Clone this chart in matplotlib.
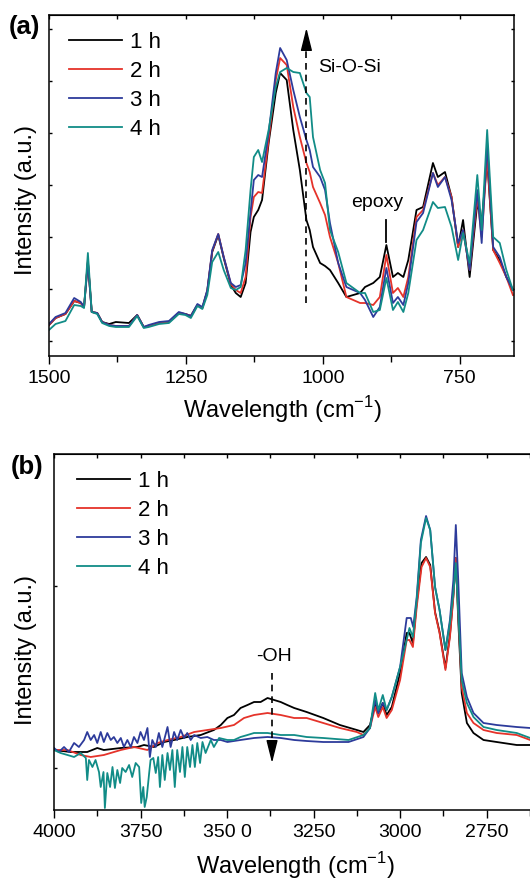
import numpy as np
import matplotlib
matplotlib.use('Agg')
import matplotlib.pyplot as plt
from matplotlib.ticker import MultipleLocator, FixedLocator

plt.rcParams['font.family'] = ['Liberation Sans', 'DejaVu Sans']
plt.rcParams['mathtext.fontset'] = 'custom'
plt.rcParams['mathtext.rm'] = 'Liberation Sans'

# ------------------------- (a) 1500-650 cm-1 -------------------------
wn_a = [1500, 1488, 1470, 1454, 1442, 1436, 1429, 1422, 1412, 1403,
        1390, 1378, 1354, 1339, 1327, 1318, 1299, 1281, 1263, 1251,
        1241, 1229, 1220, 1211, 1202, 1191, 1181, 1168, 1159, 1150,
        1141, 1132, 1126, 1118, 1111, 1099, 1086, 1078, 1066, 1054,
        1042, 1030, 1024, 1018, 1005, 996, 987, 972, 957, 932,
        923, 908, 896, 884, 872, 863, 853, 844, 829, 817,
        799, 790, 777, 765, 753, 744, 732, 718, 710, 700,
        689, 677, 665, 653]
a_1h = [16, 23, 27, 40, 38, 34, 79, 29, 28, 19, 17, 19, 18, 26, 14, 15, 18, 19, 28, 27,
        25, 36, 33, 50, 89, 106, 83, 56, 48, 44, 58, 109, 124, 131, 141, 198, 248, 268, 261, 211,
        171, 121, 111, 94, 78, 75, 71, 58, 44, 48, 54, 58, 64, 96, 64, 68, 64, 81, 131, 134,
        178, 164, 169, 144, 94, 121, 64, 138, 119, 181, 91, 81, 64, 51]
a_2h = [16, 23, 27, 40, 38, 34, 81, 29, 28, 19, 16, 15, 15, 26, 14, 15, 18, 19, 28, 27,
        25, 36, 33, 50, 90, 107, 84, 57, 51, 48, 64, 124, 144, 149, 148, 201, 261, 283, 276, 234,
        204, 178, 169, 154, 138, 126, 104, 78, 44, 38, 38, 36, 44, 86, 48, 53, 44, 64, 124, 131,
        168, 156, 164, 144, 94, 111, 71, 144, 104, 184, 91, 78, 64, 46]
a_3h = [17, 24, 28, 43, 39, 34, 79, 29, 28, 19, 16, 15, 15, 26, 14, 16, 19, 20, 29, 27,
        25, 37, 34, 51, 91, 107, 84, 58, 54, 56, 78, 129, 161, 166, 164, 208, 268, 293, 281, 251,
        224, 201, 191, 174, 164, 151, 118, 78, 54, 48, 41, 24, 34, 73, 38, 44, 36, 58, 119, 128,
        168, 154, 164, 141, 98, 111, 71, 151, 98, 198, 94, 84, 64, 51]
a_4h = [11, 17, 20, 36, 35, 33, 88, 29, 27, 18, 15, 14, 14, 25, 13, 14, 17, 18, 27, 26,
        23, 35, 32, 46, 79, 89, 71, 53, 51, 54, 91, 151, 184, 191, 179, 211, 254, 269, 273, 269,
        268, 248, 244, 204, 171, 158, 111, 89, 58, 48, 48, 29, 31, 63, 31, 39, 29, 48, 101, 111,
        139, 133, 134, 114, 81, 108, 78, 166, 111, 211, 104, 98, 71, 51]

# ------------------------- (b) 4000-2620 cm-1 -------------------------
wn_b_1h = [4000, 3952, 3904, 3875, 3856, 3807, 3759, 3740, 3711, 3682,
           3653, 3615, 3576, 3538, 3518, 3499, 3480, 3461, 3441, 3422,
           3403, 3383, 3364, 3345, 3326, 3306, 3270, 3222, 3174, 3125,
           3106, 3087, 3072, 3063, 3050, 3039, 3024, 3000, 2981, 2973,
           2963, 2952, 2938, 2925, 2913, 2899, 2886, 2869, 2856, 2846,
           2839, 2832, 2822, 2807, 2788, 2759, 2721, 2663, 2624]
b_1h = [18, 16, 16, 20, 18, 20, 21, 23, 21, 26, 28, 31, 33, 38, 43, 50, 53, 60, 63, 66,
        66, 70, 68, 66, 63, 60, 56, 50, 43, 38, 36, 43, 65, 55, 65, 53, 61, 95, 135, 135,
        125, 165, 205, 211, 203, 156, 136, 100, 133, 173, 210, 148, 75, 45, 35, 28, 26, 23, 23]

wn_b_2h = [4000, 3961, 3923, 3894, 3856, 3807, 3769, 3730, 3701, 3672,
           3634, 3595, 3557, 3518, 3480, 3451, 3422, 3383, 3345, 3306,
           3270, 3222, 3174, 3125, 3106, 3087, 3072, 3063, 3050, 3039,
           3024, 3000, 2981, 2973, 2963, 2952, 2938, 2925, 2913, 2899,
           2886, 2869, 2856, 2846, 2839, 2832, 2822, 2807, 2788, 2759,
           2721, 2663, 2624]
b_2h = [18, 18, 13, 11, 13, 18, 21, 18, 25, 28, 31, 36, 38, 40, 43, 50, 53, 55, 53, 50,
        50, 45, 40, 36, 33, 40, 61, 51, 61, 50, 58, 88, 128, 128, 121, 161, 201, 210, 201, 155,
        135, 98, 131, 171, 210, 155, 81, 55, 45, 38, 35, 33, 28]

wn_b_3h = [4000, 3986, 3971, 3957, 3942, 3928, 3913, 3904, 3894, 3884,
           3875, 3865, 3856, 3846, 3836, 3827, 3817, 3807, 3798, 3788,
           3778, 3769, 3759, 3750, 3740, 3730, 3723, 3716, 3706, 3697,
           3687, 3672, 3663, 3653, 3644, 3634, 3624, 3615, 3605, 3595,
           3576, 3557, 3538, 3518, 3499, 3461, 3422, 3383, 3345, 3306,
           3270, 3222, 3149, 3106, 3087, 3072, 3063, 3050, 3039, 3024,
           3000, 2981, 2969, 2962, 2952, 2940, 2925, 2913, 2899, 2886,
           2869, 2856, 2846, 2839, 2832, 2822, 2807, 2788, 2759, 2721,
           2663, 2624]
b_3h = [20, 16, 21, 16, 25, 21, 28, 36, 28, 33, 25, 36, 26, 35, 28, 31, 25, 30, 21, 28,
        21, 31, 25, 36, 28, 40, 11, 28, 21, 35, 21, 41, 21, 36, 28, 38, 30, 35, 28, 33,
        30, 31, 28, 28, 26, 28, 30, 31, 30, 28, 27, 26, 26, 31, 40, 68, 55, 65, 58, 71,
        101, 150, 150, 141, 171, 228, 252, 238, 181, 158, 118, 148, 188, 243, 188, 95, 71, 55, 45, 43,
        41, 40]

wn_b_4h = [4000, 3981, 3961, 3942, 3923, 3908, 3904, 3899, 3889, 3880,
           3870, 3865, 3857, 3853, 3846, 3838, 3831, 3824, 3817, 3809,
           3803, 3793, 3783, 3774, 3764, 3754, 3748, 3742, 3738, 3732,
           3725, 3721, 3713, 3706, 3699, 3694, 3687, 3680, 3672, 3665,
           3658, 3651, 3644, 3636, 3629, 3622, 3615, 3607, 3600, 3593,
           3586, 3578, 3571, 3562, 3547, 3538, 3523, 3499, 3480, 3461,
           3441, 3422, 3383, 3345, 3306, 3270, 3222, 3149, 3106, 3087,
           3072, 3063, 3050, 3039, 3024, 3000, 2981, 2973, 2963, 2952,
           2940, 2925, 2913, 2899, 2886, 2869, 2856, 2846, 2839, 2832,
           2822, 2807, 2788, 2759, 2721, 2663, 2624]
b_4h = [18, 15, 13, 11, 15, 10, -12, 8, 1, 8, -4, -19, -4, -40, -5, -19, 1, -20, -2, -15,
        0, -4, 3, -9, 5, 1, -35, -19, -39, -29, -5, 8, 10, -5, 11, -19, 13, -12, 15, -2,
        18, -19, 18, -4, 21, -9, 21, 1, 23, 1, 25, 5, 26, 15, 28, 21, 30, 28, 28, 31,
        33, 35, 35, 33, 33, 31, 30, 28, 33, 40, 75, 58, 73, 58, 71, 101, 128, 140, 131, 168,
        225, 250, 238, 181, 158, 118, 145, 175, 205, 155, 88, 65, 51, 41, 38, 35, 30]

labels = ['1 h', '2 h', '3 h', '4 h']
colors = ['#000000', '#e5332a', '#2d3b9b', '#118c87']
xtick_b_labels = ['4000', '3750', '350 0', '3250', '3000', '2750']

W, H = 530, 882
fig = plt.figure(figsize=(W / 100, H / 100), dpi=100)

def px_box(l, t, r, b):
    return [l / W, 1 - b / H, (r - l) / W, (b - t) / H]

def style_axes(ax, major, minor):
    ax.xaxis.set_major_locator(FixedLocator(major))
    ax.xaxis.set_minor_locator(MultipleLocator(minor))
    ax.tick_params(axis='x', which='major', direction='out', length=6, width=1, labelsize=14, pad=4)
    ax.tick_params(axis='x', which='minor', direction='out', length=4, width=1)
    ax.tick_params(axis='y', which='both', direction='in', length=2.5, width=1,
                   left=True, right=True, labelleft=False)
    sec = ax.secondary_xaxis('top')
    sec.xaxis.set_major_locator(FixedLocator(major))
    sec.xaxis.set_minor_locator(MultipleLocator(minor))
    sec.tick_params(axis='x', which='both', direction='in', length=3, width=1, labeltop=False)
    for s in ax.spines.values():
        s.set_linewidth(1.1)

leg_kw = dict(loc='upper left', frameon=False, fontsize=16, handlelength=2.4,
              handletextpad=0.35, labelspacing=0.36, borderpad=0, borderaxespad=0)

# ---------- (a) ----------
ax1 = fig.add_axes(px_box(49, 15, 514, 356))
for y, lab, c in zip([a_1h, a_2h, a_3h, a_4h], labels, colors):
    ax1.plot(wn_a, y, color=c, lw=1.3, label=lab)
ax1.set_xlim(1500, 651)
ax1.set_ylim(-15, 326)
ax1.yaxis.set_major_locator(MultipleLocator(52))
style_axes(ax1, [1500, 1250, 1000, 750], 125)

# Si-O-Si arrow
ax1.plot([1030, 1030], [38, 296], ls=(0, (4, 3)), color='k', lw=1.2)
ax1.annotate('', xy=(1030, 313), xytext=(1030, 294),
             arrowprops=dict(arrowstyle='-|>,head_length=1.0,head_width=0.25',
                             color='k', lw=1, mutation_scale=14, shrinkA=0, shrinkB=0))
ax1.text(1009, 269, 'Si-O-Si', fontsize=14, ha='left', va='baseline')
ax1.plot([884, 884], [99, 121], color='k', lw=1.3)
ax1.text(901, 134, 'epoxy', fontsize=14, ha='center', va='baseline')

ax1.legend(bbox_to_anchor=(20 / 465, 1 - 17 / 341), **leg_kw)

fig.text(9 / W, 1 - 34 / H, '(a)', fontsize=18.5, fontweight='bold', va='baseline')
fig.text(26 / W, 1 - 200 / H, 'Intensity (a.u.)', fontsize=17, rotation=90,
         ha='center', va='center')
fig.text(282 / W, 1 - 418 / H, r'Wavelength (cm$^{-1}$)', fontsize=17,
         ha='center', va='baseline')

# ---------- (b) ----------
ax2 = fig.add_axes(px_box(54, 454, 533, 810))
for xs, y, lab, c in zip([wn_b_1h, wn_b_2h, wn_b_3h, wn_b_4h],
                         [b_1h, b_2h, b_3h, b_4h], labels, colors):
    ax2.plot(xs, y, color=c, lw=1.3, label=lab)
ax2.set_xlim(4000, 2616)
ax2.set_ylim(-42, 314)
ax2.yaxis.set_major_locator(MultipleLocator(182))
style_axes(ax2, [4000, 3750, 3500, 3250, 3000, 2750], 125)
ax2.set_xticklabels(xtick_b_labels)

# -OH arrow
ax2.plot([3370, 3370], [95, 23], ls=(0, (4, 3)), color='k', lw=1.2)
ax2.annotate('', xy=(3370, 5), xytext=(3370, 24),
             arrowprops=dict(arrowstyle='-|>,head_length=1.0,head_width=0.25',
                             color='k', lw=1, mutation_scale=14, shrinkA=0, shrinkB=0))
ax2.text(3364, 107, '-OH', fontsize=14, ha='center', va='baseline')

ax2.legend(bbox_to_anchor=(23 / 479, 1 - 17 / 356), **leg_kw)

fig.text(11 / W, 1 - 474 / H, '(b)', fontsize=18.5, fontweight='bold', va='baseline')
fig.text(26 / W, 1 - 650 / H, 'Intensity (a.u.)', fontsize=17, rotation=90,
         ha='center', va='center')
fig.text(295 / W, 1 - 874 / H, r'Wavelength (cm$^{-1}$)', fontsize=17,
         ha='center', va='baseline')

fig.savefig('out.png', dpi=100)
